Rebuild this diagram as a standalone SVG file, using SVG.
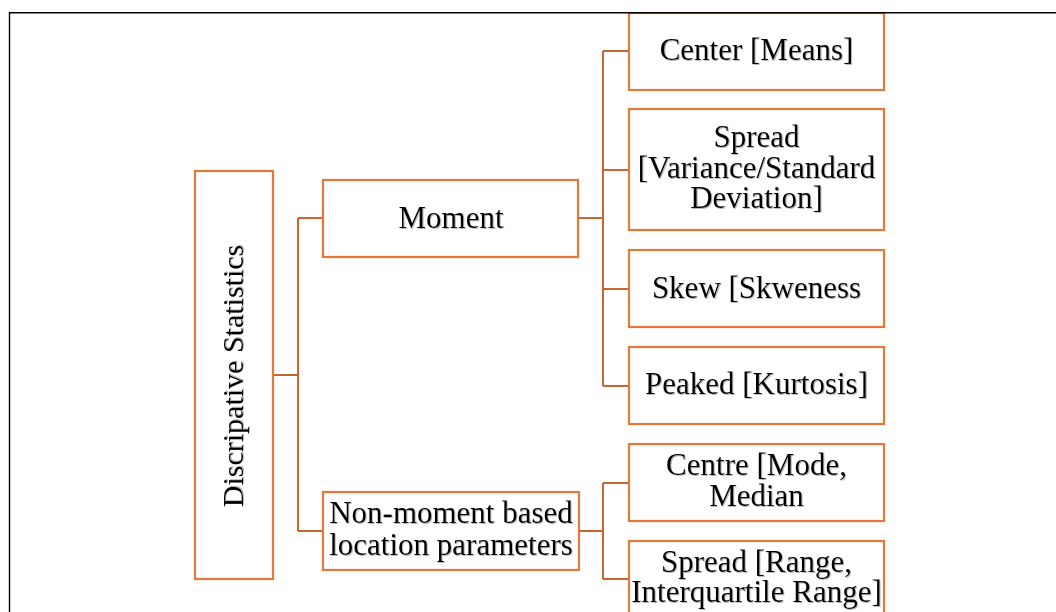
<svg xmlns="http://www.w3.org/2000/svg" width="1056" height="612" viewBox="0 0 1056 612">
<defs>
<filter id="sh" x="-5%" y="-20%" width="110%" height="140%">
<feDropShadow dx="1" dy="1" stdDeviation="0.7" flood-color="#808080" flood-opacity="0.55"/>
</filter>
<style>
.box{fill:#fff;stroke:#E2783A;stroke-width:2.2}
.con{fill:none;stroke:#C8652C;stroke-width:2}
text{font-family:"Liberation Serif","Times New Roman",serif;font-size:31px;fill:#000;text-anchor:middle;filter:url(#sh)}
</style>
</defs>
<rect width="1056" height="612" fill="#fff"/>
<g id="connectors">
<path class="con" d="M273,375 H298 M298,218 V531 M298,218 H323 M298,531 H323"/>
<path class="con" d="M578,218 H603 M603,51 V386 M603,51 H629 M603,170 H629 M603,289 H629 M603,386 H629"/>
<path class="con" d="M579,531 H603 M603,483 V579 M603,483 H629 M603,579 H629"/>
</g>
<g id="root">
<rect class="box" x="195" y="171" width="78" height="408"/>
<text transform="translate(243,376) rotate(-90)" style="font-size:30px">Discripative Statistics</text>
</g>
<g id="moment">
<rect class="box" x="323" y="180" width="255" height="77"/>
<text x="451" y="228">Moment</text>
</g>
<g id="nonmoment">
<rect class="box" x="323" y="492" width="256" height="78"/>
<text x="451" y="523">Non-moment based</text>
<text x="451" y="555">location parameters</text>
</g>
<g id="center">
<rect class="box" x="629" y="13" width="255" height="77"/>
<text x="756.5" y="60">Center [Means]</text>
</g>
<g id="spread">
<rect class="box" x="629" y="109" width="255" height="121"/>
<text x="756.5" y="147">Spread</text>
<text x="756.5" y="178">[Variance/Standard</text>
<text x="756.5" y="208">Deviation]</text>
</g>
<g id="skew">
<rect class="box" x="629" y="250" width="255" height="77"/>
<text x="756.5" y="298">Skew [Skweness</text>
</g>
<g id="peaked">
<rect class="box" x="629" y="347" width="255" height="77"/>
<text x="756.5" y="394">Peaked [Kurtosis]</text>
</g>
<g id="centre-mode">
<rect class="box" x="629" y="444" width="255" height="77"/>
<text x="756.5" y="475">Centre [Mode,</text>
<text x="756.5" y="506">Median</text>
</g>
<g id="spread-range">
<rect class="box" x="629" y="541" width="255" height="80"/>
<text x="756.5" y="572">Spread [Range,</text>
<text x="756.5" y="602">Interquartile Range]</text>
</g>
<g id="frame">
<path d="M9.5,620 V12.7 H1060" fill="none" stroke="#000" stroke-width="1.4"/>
</g>
</svg>
